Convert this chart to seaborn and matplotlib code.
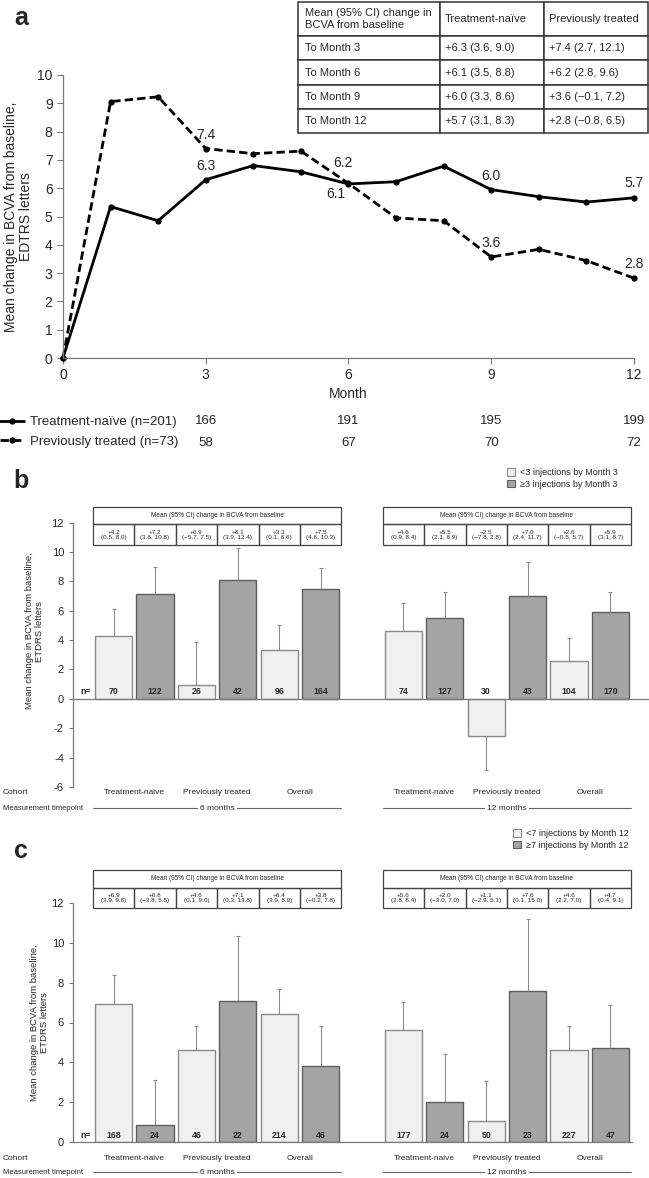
import matplotlib
matplotlib.use("Agg")
import matplotlib.pyplot as plt
from matplotlib import font_manager
from matplotlib.lines import Line2D
from matplotlib.patches import Rectangle, Patch
from matplotlib.transforms import blended_transform_factory
import pandas as pd
import seaborn as sns

# ---------------- data, panel a ----------------
months = list(range(13))
naive_mean = [0, 5.35, 4.85, 6.3, 6.8, 6.58, 6.15, 6.23, 6.78, 5.95, 5.7, 5.51, 5.66]
prev_mean = [0, 9.06, 9.23, 7.4, 7.22, 7.31, 6.17, 4.95, 4.85, 3.57, 3.84, 3.44, 2.82]
label_months = [3, 6, 9, 12]
naive_labels = ["6.3", "6.1", "6.0", "5.7"]
prev_labels = ["7.4", "6.2", "3.6", "2.8"]
naive_n = [166, 191, 195, 199]
prev_n = [58, 67, 70, 72]

table_a_header = ["Mean (95% CI) change in\nBCVA from baseline", "Treatment-naïve", "Previously treated"]
table_a_rows = [
    ["To Month 3", "+6.3 (3.6, 9.0)", "+7.4 (2.7, 12.1)"],
    ["To Month 6", "+6.1 (3.5, 8.8)", "+6.2 (2.8, 9.6)"],
    ["To Month 9", "+6.0 (3.3, 8.6)", "+3.6 (\u22120.1, 7.2)"],
    ["To Month 12", "+5.7 (3.1, 8.3)", "+2.8 (\u22120.8, 6.5)"],
]

# ---------------- data, panels b and c ----------------
cohorts = ["Treatment-naive", "Previously treated", "Overall"]
timepoints = ["6 months", "12 months"]

b_groups = ["<3 injections by Month 3", "\u22653 injections by Month 3"]
b_mean = [4.25, 7.17, 0.93, 8.1, 3.35, 7.45, 4.6, 5.5, -2.5, 7.0, 2.6, 5.9]
b_err_end = [6.13, 8.98, 3.85, 10.25, 5.0, 8.88, 6.5, 7.25, -4.85, 9.35, 4.15, 7.3]
b_n = [70, 122, 26, 42, 96, 164, 74, 127, 30, 43, 104, 170]
b_ci = ["+4.2\n(0.5, 8.0)", "+7.2\n(3.6, 10.8)", "+0.9\n(\u22125.7, 7.5)", "+8.1\n(3.9, 12.4)",
        "+3.3\n(0.1, 6.6)", "+7.5\n(4.6, 10.3)", "+4.6\n(0.9, 8.4)", "+5.5\n(2.1, 8.9)",
        "\u22122.5\n(\u22127.8, 2.8)", "+7.0\n(2.4, 11.7)", "+2.6\n(\u22120.5, 5.7)", "+5.9\n(3.1, 8.7)"]

c_groups = ["<7 injections by Month 12", "\u22657 injections by Month 12"]
c_mean = [6.92, 0.85, 4.62, 7.09, 6.42, 3.84, 5.61, 1.99, 1.07, 7.6, 4.62, 4.74]
c_err_end = [8.38, 3.1, 5.8, 10.32, 7.67, 5.8, 7.05, 4.42, 3.07, 11.19, 5.8, 6.9]
c_n = [168, 24, 46, 22, 214, 46, 177, 24, 50, 23, 227, 47]
c_ci = ["+6.9\n(3.9, 9.8)", "+0.8\n(\u22123.8, 5.5)", "+4.6\n(0.1, 9.0)", "+7.1\n(0.3, 13.8)",
        "+6.4\n(3.9, 8.9)", "+3.8\n(\u22120.2, 7.8)", "+5.6\n(2.8, 8.4)", "+2.0\n(\u22123.0, 7.0)",
        "+1.1\n(\u22122.9, 5.1)", "+7.6\n(0.1, 15.0)", "+4.6\n(2.2, 7.0)", "+4.7\n(0.4, 9.1)"]

# ---------------- style ----------------
sns.set_style("ticks")
names = {f.name for f in font_manager.fontManager.ttflist}
NARROW = "Liberation Sans Narrow" if "Liberation Sans Narrow" in names else "Liberation Sans"
plt.rcParams["font.family"] = ["Liberation Sans", "DejaVu Sans"]
plt.rcParams["axes.unicode_minus"] = False

LIGHT, LIGHT_EDGE = "#f0f0f0", "#8a8a8a"
DARK, DARK_EDGE = "#a4a4a4", "#5e5e5e"
AXIS_GREY = "#7a7a7a"

W, H = 649, 1178
def fx(px):
    return px / W
def fy(py):
    return 1 - py / H

fig = plt.figure(figsize=(W / 100, H / 100), dpi=100)

# ---------------- panel a ----------------
ax_a = fig.add_axes([fx(63), fy(358), (634 - 63) / W, (358 - 75) / H])
df_a = pd.DataFrame({
    "Month": months * 2,
    "Change": naive_mean + prev_mean,
    "Cohort": ["Treatment-naïve"] * len(months) + ["Previously treated"] * len(months),
})
sns.lineplot(data=df_a, x="Month", y="Change", style="Cohort",
             markers={"Treatment-naïve": "o", "Previously treated": "o"},
             dashes={"Treatment-naïve": "", "Previously treated": (3, 1.5)},
             color="black", linewidth=2, markersize=4.5, markeredgewidth=0,
             legend=False, ax=ax_a, clip_on=False)
ax_a.set_xlim(0, 12)
ax_a.set_ylim(0, 10)
ax_a.set_xticks([0, 3, 6, 9, 12])
ax_a.set_yticks(range(0, 11))
ax_a.tick_params(labelsize=10, length=4, width=0.8, color=AXIS_GREY)
sns.despine(ax=ax_a)
for s in ["left", "bottom"]:
    ax_a.spines[s].set_color(AXIS_GREY)
    ax_a.spines[s].set_linewidth(0.9)
ax_a.set_xlabel("Month", fontsize=10, labelpad=3)
ax_a.set_ylabel("Mean change in BCVA from baseline,\nEDTRS letters", fontsize=10, linespacing=1.1)
ax_a.yaxis.set_label_coords(-0.052, 0.5)

offs_naive = [(0, 14), (-13, -10), (0, 14), (0, 15)]
offs_prev = [(0, 14), (-6, 20), (0, 14), (0, 14)]
for m, lab, off in zip(label_months, naive_labels, offs_naive):
    ax_a.annotate(lab, (m, naive_mean[m]), xytext=off, textcoords="offset pixels",
                  ha="center", va="center", fontsize=10)
for m, lab, off in zip(label_months, prev_labels, offs_prev):
    ax_a.annotate(lab, (m, prev_mean[m]), xytext=off, textcoords="offset pixels",
                  ha="center", va="center", fontsize=10)

# count rows beneath panel a
tr_a = blended_transform_factory(ax_a.transData, fig.transFigure)
for m, n1, n2 in zip(label_months, naive_n, prev_n):
    ax_a.text(m, fy(421), str(n1), transform=tr_a, ha="center", va="center", fontsize=9.5)
    ax_a.text(m, fy(443), str(n2), transform=tr_a, ha="center", va="center", fontsize=9.5)
handles = [Line2D([], [], color="black", lw=2, marker="o", ms=4.5, mew=0),
           Line2D([], [], color="black", lw=2, ls=(0, (3, 1.5)), marker="o", ms=4.5, mew=0)]
fig.legend(handles, ["Treatment-naïve (n=201)", "Previously treated (n=73)"],
           loc="center left", bbox_to_anchor=(0, fy(432)), frameon=False, fontsize=9.5,
           handlelength=1.8, handletextpad=0.5, labelspacing=0.55, borderpad=0, borderaxespad=0)

# summary table, panel a
tab_ax = fig.add_axes([fx(298), fy(133), 350 / W, 131 / H])
tab_ax.axis("off")
tab = tab_ax.table(cellText=[table_a_header] + table_a_rows, colWidths=[142, 104, 104],
                   cellLoc="left", bbox=[0, 0, 1, 1])
tab.auto_set_font_size(False)
for (r, c), cell in tab.get_celld().items():
    cell.set_height(34 if r == 0 else 24)
    cell.set_linewidth(1.1)
    cell.set_edgecolor("#333333")
    cell.PAD = 0.05
    cell.get_text().set_fontsize(8)
    cell.get_text().set_fontfamily(NARROW)

fig.text(fx(21), fy(18), "a", fontsize=18, fontweight="bold", ha="center", va="center")


# ---------------- panels b and c ----------------
def bar_panel(ax, means, ends, ns, cis, groups, ylim, yticks, xlim, zero_spine,
              tab_y, cohort_y, time_y, ylabel_y, ylabel_x):
    pos = [i + (i >= 6) for i in range(len(means))]
    df = pd.DataFrame({"pos": pos, "mean": means, "inj": groups * (len(means) // 2)})
    sns.barplot(data=df, x="pos", y="mean", hue="inj", hue_order=groups,
                palette=[LIGHT, DARK], native_scale=True, dodge=False, width=0.9,
                errorbar=None, legend=False, linewidth=1, ax=ax, zorder=2)
    light_rgba = matplotlib.colors.to_rgba(LIGHT)
    for bar in ax.patches:
        same = all(abs(a - b) < 1e-3 for a, b in zip(bar.get_facecolor(), light_rgba))
        bar.set_edgecolor(LIGHT_EDGE if same else DARK_EDGE)
    ax.vlines(pos, means, ends, color="#8c8c8c", lw=0.8, zorder=3)
    ax.scatter(pos, ends, marker="_", s=6, color="#8c8c8c", lw=0.8, zorder=3)
    for p, n in zip(pos, ns):
        ax.annotate(str(n), (p, 0), xytext=(0, 7), textcoords="offset pixels",
                    ha="center", va="center", fontsize=6.3, fontweight="bold", family=NARROW)
    ax.annotate("n=", (-0.67, 0), xytext=(0, 7), textcoords="offset pixels",
                ha="center", va="center", fontsize=6.3, fontweight="bold", family=NARROW)

    ax.set_xlim(*xlim)
    ax.set_ylim(*ylim)
    ax.set_yticks(yticks)
    ax.set_xticks([])
    ax.set_xlabel("")
    ax.tick_params(axis="y", labelsize=8, length=3, width=0.8, color=AXIS_GREY)
    sns.despine(ax=ax)
    ax.spines["left"].set_color(AXIS_GREY)
    ax.spines["bottom"].set_color(AXIS_GREY)
    ax.spines["left"].set_linewidth(0.9)
    ax.spines["bottom"].set_linewidth(0.9)
    if zero_spine:
        ax.spines["bottom"].set_position(("data", 0))
    ax.set_ylabel("Mean change in BCVA from baseline,\nETDRS letters", fontsize=6.8)
    ax.yaxis.set_label_coords(ylabel_x, ylabel_y)

    # little CI tables above the bars
    top, mid, bot = tab_y
    for g in range(2):
        gp = pos[6 * g:6 * g + 6]
        ax.add_patch(Rectangle((gp[0] - 0.5, mid), 6, top - mid, fill=False, ec="#444444",
                               lw=0.9, clip_on=False, zorder=4))
        ax.text((gp[0] + gp[-1]) / 2, (top + mid) / 2, "Mean (95% CI) change in BCVA from baseline",
                ha="center", va="center", fontsize=4.7, family=NARROW, zorder=5)
        for k, p in enumerate(gp):
            ax.add_patch(Rectangle((p - 0.5, bot), 1, mid - bot, fill=False, ec="#444444",
                                   lw=0.9, clip_on=False, zorder=4))
            ax.text(p, (mid + bot) / 2, cis[6 * g + k], ha="center", va="center",
                    fontsize=4.6, family=[NARROW, "DejaVu Sans"], linespacing=1.15, zorder=5)

    tr = blended_transform_factory(ax.transData, fig.transFigure)
    fig.text(fx(3), fy(cohort_y), "Cohort", fontsize=6, family=NARROW, va="center")
    fig.text(fx(3), fy(time_y), "Measurement timepoint", fontsize=5.5, family=NARROW, va="center")
    for g in range(2):
        gp = pos[6 * g:6 * g + 6]
        for k, name in enumerate(cohorts):
            ax.text((gp[2 * k] + gp[2 * k + 1]) / 2, fy(cohort_y), name, transform=tr,
                    ha="center", va="center", fontsize=6, family=NARROW)
        ax.plot([gp[0] - 0.5, gp[-1] + 0.5], [fy(time_y)] * 2, transform=tr, color="#666666",
                lw=0.8, clip_on=False)
        ax.text((gp[0] + gp[-1]) / 2, fy(time_y), timepoints[g], transform=tr, ha="center",
                va="center", fontsize=6, family=NARROW,
                bbox=dict(fc="white", ec="none", pad=1.5))


P = 41.4          # pixels per bar slot
X0 = 113.6        # pixel position of the first bar centre

ax_b = fig.add_axes([fx(73), fy(787), (650 - 73) / W, (787 - 522.6) / H])
bar_panel(ax_b, b_mean, b_err_end, b_n, b_ci, b_groups, (-6, 12), range(-6, 13, 2),
          ((73 - X0) / P, (650 - X0) / P), True, (13.03, 11.88, 10.45), 793, 808, 0.59, -0.05)
fig.legend([Patch(fc=LIGHT, ec=LIGHT_EDGE, lw=0.8), Patch(fc=DARK, ec=DARK_EDGE, lw=0.8)], b_groups,
           loc="upper left", bbox_to_anchor=(fx(507), fy(468)), frameon=False,
           prop={"family": [NARROW, "DejaVu Sans"], "size": 6.5},
           handlelength=0.9, handleheight=0.9, handletextpad=0.5, labelspacing=0.3,
           borderpad=0, borderaxespad=0)
fig.text(fx(21), fy(481), "b", fontsize=18, fontweight="bold", ha="center", va="center")

ax_c = fig.add_axes([fx(73), fy(1142), (632 - 73) / W, (1142 - 903) / H])
bar_panel(ax_c, c_mean, c_err_end, c_n, c_ci, c_groups, (0, 12), range(0, 13, 2),
          ((73 - X0) / P, (632 - X0) / P), False, (13.67, 12.76, 11.76), 1158, 1172, 0.5, -0.043)
fig.legend([Patch(fc=LIGHT, ec=LIGHT_EDGE, lw=0.8), Patch(fc=DARK, ec=DARK_EDGE, lw=0.8)], c_groups,
           loc="upper left", bbox_to_anchor=(fx(513), fy(829)), frameon=False,
           prop={"family": [NARROW, "DejaVu Sans"], "size": 6.5},
           handlelength=0.9, handleheight=0.9, handletextpad=0.5, labelspacing=0.3,
           borderpad=0, borderaxespad=0)
fig.text(fx(21), fy(851), "c", fontsize=18, fontweight="bold", ha="center", va="center")

fig.savefig("out.png", dpi=100)
